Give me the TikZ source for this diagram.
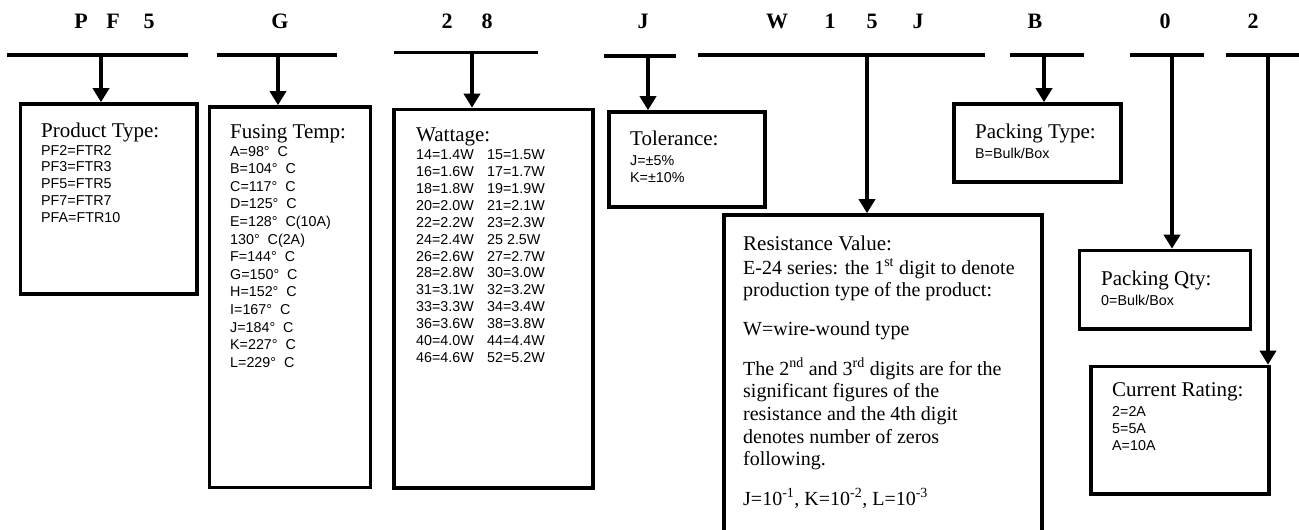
\documentclass[tikz,border=0pt]{standalone}
\usepackage{fontspec}
\setmainfont{Liberation Serif}
\newfontfamily\arialf{Liberation Sans}
\usetikzlibrary{arrows.meta}
\begin{document}
\begin{tikzpicture}[x=1pt,y=-1pt,
  bar/.style={line width=3.3pt},
  arr/.style={line width=3.6pt,-{Triangle[width=16pt,length=14pt]}},
  box/.style={draw,line width=3.6pt,rectangle,inner sep=0pt},
  hdr/.style={font=\fontsize{22}{26}\selectfont\bfseries,anchor=base,inner sep=0pt},
  ttl/.style={font=\fontsize{21}{24}\selectfont,anchor=base west,inner sep=0pt},
  lst/.style={anchor=base west,inner sep=0pt},
]
\useasboundingbox (0,0) rectangle (1299,530);
\begin{scope}
\clip (0,0) rectangle (1299,530);

% header letters
\node[hdr] (h1) at (81,28) {P};
\node[hdr] (h2) at (113,28) {F};
\node[hdr] (h3) at (149,28) {5};
\node[hdr] (h4) at (280,28) {G};
\node[hdr] (h5) at (447,28) {2};
\node[hdr] (h6) at (487,28) {8};
\node[hdr] (h7) at (643,28) {J};
\node[hdr] (h8) at (777,28) {W};
\node[hdr] (h9) at (830,28) {1};
\node[hdr] (h10) at (872,28) {5};
\node[hdr] (h11) at (918,28) {J};
\node[hdr] (h12) at (1035,28) {B};
\node[hdr] (h13) at (1165,28) {0};
\node[hdr] (h14) at (1253,28) {2};

% bars
\coordinate (b1l) at (7,55);    \coordinate (b1r) at (188,55);
\coordinate (b2l) at (217,55);  \coordinate (b2r) at (337,55);
\coordinate (b3l) at (394,52.5);\coordinate (b3r) at (538,52.5);
\coordinate (b4l) at (604,56);  \coordinate (b4r) at (676,56);
\coordinate (b5l) at (698,55);  \coordinate (b5r) at (985,55);
\coordinate (b6l) at (1010,55); \coordinate (b6r) at (1084,55);
\coordinate (b7l) at (1130,55); \coordinate (b7r) at (1204,55);
\coordinate (b8l) at (1226,55); \coordinate (b8r) at (1299,55);
\foreach \i in {1,...,8} {\draw[bar] (b\i l) -- (b\i r);}

% drop points
\coordinate (d1) at (101,55);
\coordinate (d2) at (278,55);
\coordinate (d3) at (472,52.5);
\coordinate (d4) at (648,56);
\coordinate (d5) at (867,55);
\coordinate (d6) at (1044,55);
\coordinate (d7) at (1172,55);
\coordinate (d8) at (1268,55);

% boxes
\node[box,minimum width=176.5pt,minimum height=190pt] (prod) at (108.75,199) {};
\node[box,minimum width=161pt,minimum height=380.5pt] (fuse) at (290,297.25) {};
\node[box,minimum width=199pt,minimum height=378.5pt] (watt) at (493.5,298.75) {};
\node[box,minimum width=156pt,minimum height=95pt] (tol) at (687,159.5) {};
\node[box,minimum width=167pt,minimum height=78pt] (ptype) at (1037.5,143) {};
\node[box,minimum width=318pt,minimum height=345pt] (res) at (883,387.5) {};
\node[box,minimum width=171pt,minimum height=78.5pt] (pqty) at (1165,289.75) {};
\node[box,minimum width=178pt,minimum height=127.5pt] (cur) at (1180,430.25) {};

% arrows
\draw[arr] (d1) -- (d1 |- prod.north);
\draw[arr] (d2) -- (d2 |- fuse.north);
\draw[arr] (d3) -- (d3 |- watt.north);
\draw[arr] (d4) -- (d4 |- tol.north);
\draw[arr] (d5) -- (d5 |- res.north);
\draw[arr] (d6) -- (d6 |- ptype.north);
\draw[arr] (d7) -- (d7 |- pqty.north);
\draw[arr] (d8) -- (d8 |- cur.north);

% titles
\node[ttl] (prodt) at (41,137) {Product Type:};
\node[ttl] (fuset) at (230,138) {Fusing Temp:};
\node[ttl] (wattt) at (416,141.5) {Wattage:};
\node[ttl] (tolt) at (630,145) {Tolerance:};
\node[ttl] (rest) at (743,250) {Resistance Value:};
\node[ttl] (ptypet) at (975,138) {Packing Type:};
\node[ttl] (pqtyt) at (1101,285) {Packing Qty:};
\node[ttl] (curt) at (1112,396.5) {Current Rating:};

% lists
\node[lst,font=\arialf\fontsize{14.3}{16.8}\selectfont] (prodl) at (41,155)
 {\begin{tabular}[t]{@{}l@{}}PF2=FTR2\\PF3=FTR3\\PF5=FTR5\\PF7=FTR7\\PFA=FTR10\end{tabular}};
\node[lst,font=\arialf\fontsize{14.3}{17.6}\selectfont] (fusel) at (230,156)
 {\begin{tabular}[t]{@{}l@{}}A=98° \ C\\B=104° \ C\\C=117° \ C\\D=125° \ C\\E=128° \ C(10A)\\130° \ C(2A)\\F=144° \ C\\G=150° \ C\\H=152° \ C\\I=167° \ C\\J=184° \ C\\K=227° \ C\\L=229° \ C\end{tabular}};
\node[lst,font=\arialf\fontsize{14.3}{16.95}\selectfont] (wattl) at (416,159.3)
 {\begin{tabular}[t]{@{}p{71pt}@{}l@{}}
 14=1.4W & 15=1.5W\\
 16=1.6W & 17=1.7W\\
 18=1.8W & 19=1.9W\\
 20=2.0W & 21=2.1W\\
 22=2.2W & 23=2.3W\\
 24=2.4W & 25 2.5W\\
 26=2.6W & 27=2.7W\\
 28=2.8W & 30=3.0W\\
 31=3.1W & 32=3.2W\\
 33=3.3W & 34=3.4W\\
 36=3.6W & 38=3.8W\\
 40=4.0W & 44=4.4W\\
 46=4.6W & 52=5.2W\end{tabular}};
\node[lst,font=\arialf\fontsize{14.3}{17}\selectfont] (toll) at (630,165)
 {\begin{tabular}[t]{@{}l@{}}J=±5\%\\K=±10\%\end{tabular}};
\node[lst,font=\fontsize{20}{22.7}\selectfont] (resl) at (743,274)
 {\begin{tabular}[t]{@{}l@{}}
 E-24 series: the 1\textsuperscript{st} digit to denote\\
 production type of the product:\\[15.8pt]
 W=wire-wound type\\[15.8pt]
 The 2\textsuperscript{nd} and 3\textsuperscript{rd} digits are for the\\
 significant figures of the\\
 resistance and the 4th digit\\
 denotes number of zeros\\
 following.\\[15.8pt]
 J=10\textsuperscript{-1}, K=10\textsuperscript{-2}, L=10\textsuperscript{-3}\end{tabular}};
\node[lst,font=\arialf\fontsize{14.3}{17}\selectfont] (ptypel) at (975,158.5) {B=Bulk/Box};
\node[lst,font=\arialf\fontsize{14.3}{17}\selectfont] (pqtyl) at (1101,305) {0=Bulk/Box};
\node[lst,font=\arialf\fontsize{14.3}{17}\selectfont] (curl) at (1112,416)
 {\begin{tabular}[t]{@{}l@{}}2=2A\\5=5A\\A=10A\end{tabular}};
\end{scope}
\end{tikzpicture}
\end{document}
